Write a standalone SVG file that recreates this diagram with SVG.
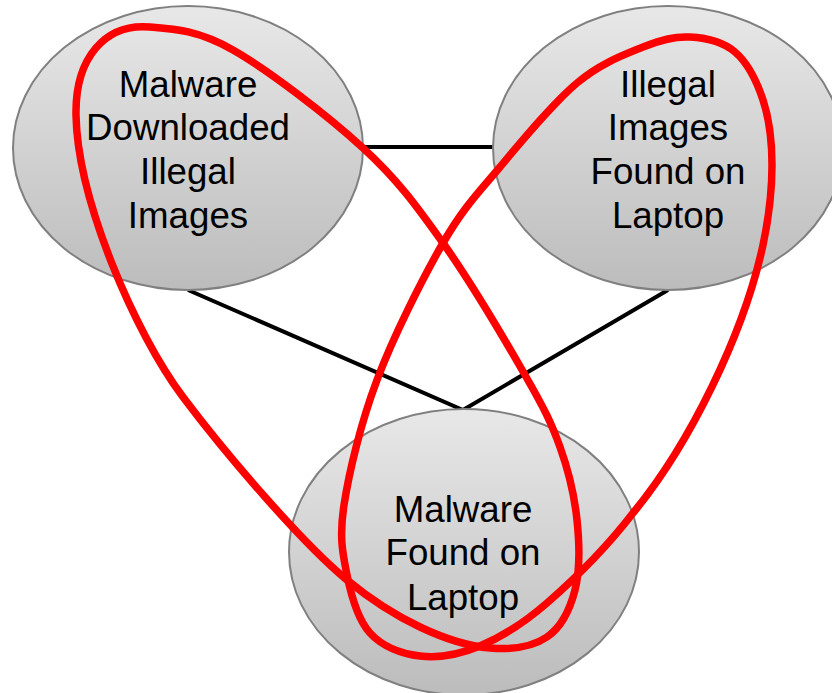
<svg xmlns="http://www.w3.org/2000/svg" width="832" height="693" viewBox="0 0 832 693">
  <defs>
    <linearGradient id="gray" x1="0" y1="0" x2="0" y2="1">
      <stop offset="0" stop-color="#e8e8e8"/>
      <stop offset="1" stop-color="#bcbcbc"/>
    </linearGradient>
    <style>
      .node { fill: url(#gray); stroke: #808080; stroke-width: 2; }
      .edge { stroke: #000000; stroke-width: 4; fill: none; }
      .loop { stroke: #ff0000; stroke-width: 7.5; fill: none; }
      .label { font-family: "Liberation Sans", Arial, sans-serif; font-size: 36.7px; fill: #000000; text-anchor: middle; }
    </style>
  </defs>
  <rect width="832" height="693" fill="#ffffff"/>
  <g id="connectors">
    <line class="edge" x1="363" y1="147" x2="493" y2="147"/>
    <polyline class="edge" points="188,290 463,410 668,290"/>
  </g>
  <g id="node-malware-downloaded">
    <ellipse class="node" cx="188" cy="148" rx="175" ry="142"/>
    <text class="label" x="188" y="97">Malware</text>
    <text class="label" x="188" y="140">Downloaded</text>
    <text class="label" x="188" y="184">Illegal</text>
    <text class="label" x="188" y="228">Images</text>
  </g>
  <g id="node-illegal-images">
    <ellipse class="node" cx="668" cy="148" rx="175" ry="142"/>
    <text class="label" x="668" y="97">Illegal</text>
    <text class="label" x="668" y="140">Images</text>
    <text class="label" x="668" y="184">Found on</text>
    <text class="label" x="668" y="228">Laptop</text>
  </g>
  <g id="node-malware-found">
    <ellipse class="node" cx="464" cy="552" rx="175" ry="143"/>
    <text class="label" x="463" y="522">Malware</text>
    <text class="label" x="463" y="565">Found on</text>
    <text class="label" x="463" y="610">Laptop</text>
  </g>
  <g id="loops">
    <path class="loop" d="M 150,27 C 105,23 75,58 76,115 C 77.5,200 135,333 183,397 C 225,453 301,542 347,580 C 372,600.7 396.2,615.7 420,627 C 443.8,638.3 468.8,646.3 490,648 C 511.2,649.7 532.8,646.7 547,637 C 561.2,627.3 570,609.5 575,590 C 580,570.5 579.5,543.8 577,520 C 574.5,496.2 568.7,471.2 560,447 C 551.3,422.8 544.5,409 525,375 C 505.5,341 470,280.8 443,243 C 416,205.2 398,180.2 363,148 C 328,115.8 268.5,70.2 233,50 C 197.5,29.8 172.2,28.7 150,27 Z"/>
    <path class="loop" d="M 690,37 C 705.3,37.8 722.8,41.5 735,52 C 747.2,62.5 756.8,81.2 763,100 C 769.2,118.8 772,140.8 772,165 C 772,189.2 769.2,215.8 763,245 C 744,333 690,444 633,513 C 607.5,546.3 572.5,580.8 547,603 C 521.5,625.2 501.2,637.2 480,646 C 458.8,654.8 438.3,658.2 420,656 C 401.7,653.8 382.2,646.5 370,633 C 357.8,619.5 351.3,596.3 347,575 C 342.7,553.7 339,537.5 344,505 C 349,472.5 360.5,423.7 377,380 C 393.5,336.3 422.5,278.5 443,243 C 463.5,207.5 477.7,193.7 500,167 C 522.3,140.3 553.2,103 577,83 C 600.8,63 624.2,54.7 643,47 C 661.8,39.3 674.7,36.2 690,37 Z"/>
  </g>
</svg>
